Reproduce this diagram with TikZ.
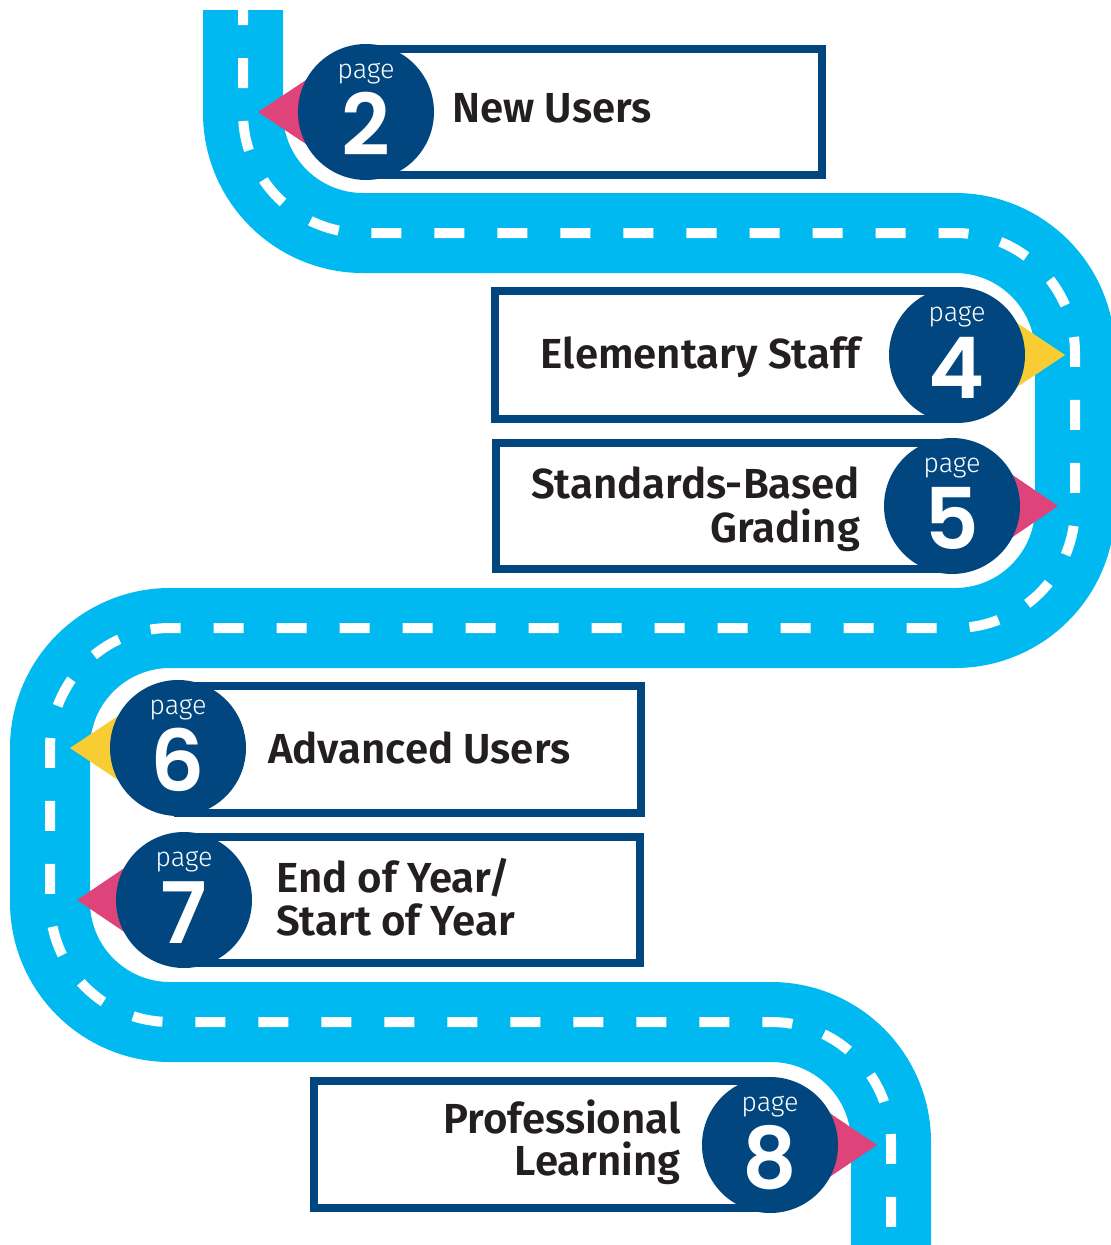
\documentclass[tikz,border=0pt]{standalone}
\usepackage{fontspec}
\setmainfont{Fira Sans}
\newfontfamily\labelfont{Fira Sans SemiBold}
\newfontfamily\pagefont{Fira Sans Light}
\newfontfamily\numfont{Poppins SemiBold}
\usetikzlibrary{calc}
\definecolor{road}{HTML}{00B9F0}
\definecolor{navy}{HTML}{02467F}
\definecolor{pinkp}{HTML}{DE4479}
\definecolor{yellowp}{HTML}{F7CD33}
\definecolor{ink}{HTML}{231F20}
\tikzset{
  roadst/.style={draw=road, line width=80pt, rounded corners=120pt},
  lanest/.style={draw=white, line width=10pt, rounded corners=120pt, dash pattern=on 30pt off 33pt, dash phase=15pt},
  boxst/.style={draw=navy, line width=8pt, fill=white, inner sep=0pt, rectangle},
  pagecirc/.style={circle, fill=navy, minimum size=136pt, inner sep=0pt},
  pgword/.style={text=white, font=\pagefont\fontsize{27}{27}\selectfont, anchor=base, inner sep=0pt},
  pgnum/.style={text=white, font=\numfont\fontsize{85}{85}\selectfont, anchor=base, inner sep=0pt},
  lbl/.style={text=ink, font=\labelfont\fontsize{42}{42}\selectfont, inner sep=0pt},
}
\begin{document}
\begin{tikzpicture}[x=1pt,y=-1pt]
\useasboundingbox (0,0) rectangle (1111,1245);
\clip (0,0) rectangle (1111,1245);
% road
\coordinate (r0) at (243,10);
\coordinate (r1) at (243,233);
\coordinate (r2) at (1075,233);
\coordinate (r3) at (1075,628);
\coordinate (r4) at (50,628);
\coordinate (r5) at (50,1022);
\coordinate (r6) at (891,1022);
\coordinate (r7) at (891,1260);
\draw[roadst] (r0) -- (r1) -- (r2) -- (r3) -- (r4) -- (r5) -- (r6) -- (r7);
\draw[lanest] (r0) -- (r1) -- (r2) -- (r3) -- (r4) -- (r5) -- (r6) -- (r7);
% boxes
\node[boxst, minimum width=456pt, minimum height=126pt] (b2) at (594,112) {};
\node[boxst, minimum width=462pt, minimum height=128pt] (b4) at (726,355) {};
\node[boxst, minimum width=455pt, minimum height=126pt] (b5) at (723.5,506) {};
\node[boxst, minimum width=463pt, minimum height=127pt] (b6) at (409.5,749.5) {};
\node[boxst, minimum width=456pt, minimum height=126pt] (b7) at (412,900) {};
\node[boxst, minimum width=456pt, minimum height=127pt] (b8) at (542,1144.5) {};
% circle centres
\coordinate (p2) at (366,112);
\coordinate (p4) at (957,355);
\coordinate (p5) at (952,506);
\coordinate (p6) at (178,748);
\coordinate (p7) at (184,900);
\coordinate (p8) at (770,1145);
% pointers
\fill[pinkp]   ($(p2)+(-108,0)$) -- ($(p2)+(-27,-54)$) -- ($(p2)+(-27,54)$) -- cycle;
\fill[yellowp] ($(p4)+(108,0)$) -- ($(p4)+(27,-54)$) -- ($(p4)+(27,54)$) -- cycle;
\fill[pinkp]   ($(p5)+(106,0)$) -- ($(p5)+(27,-54)$) -- ($(p5)+(27,54)$) -- cycle;
\fill[yellowp] ($(p6)+(-108,0)$) -- ($(p6)+(-27,-54)$) -- ($(p6)+(-27,54)$) -- cycle;
\fill[pinkp]   ($(p7)+(-107,0)$) -- ($(p7)+(-27,-54)$) -- ($(p7)+(-27,54)$) -- cycle;
\fill[pinkp]   ($(p8)+(107,0)$) -- ($(p8)+(27,-54)$) -- ($(p8)+(27,54)$) -- cycle;
% circles
\node[pagecirc] (c2) at (p2) {};
\node[pagecirc] (c4) at (p4) {};
\node[pagecirc] (c5) at (p5) {};
\node[pagecirc] (c6) at (p6) {};
\node[pagecirc] (c7) at (p7) {};
\node[pagecirc] (c8) at (p8) {};
% page words and numbers
\foreach \c/\n in {2/2,4/4,5/5,6/6,7/7,8/8}{
  \node[pgword] (w\c) at ($(p\c)+(0,-34)$) {page};
  \node[pgnum] (n\c) at ($(p\c)+(0,43)$) {\n};
}
% labels
\node[lbl, anchor=base west] (l2) at (452,122) {New Users};
\node[lbl, anchor=base east] (l4) at (860,368) {Elementary Staff};
\node[lbl, anchor=base east] (l5a) at (860,498) {Standards-Based};
\node[lbl, anchor=base east] (l5b) at (860,542) {Grading};
\node[lbl, anchor=base west] (l6) at (268,763) {Advanced Users};
\node[lbl, anchor=base west] (l7a) at (276,892) {End of Year/};
\node[lbl, anchor=base west] (l7b) at (276,935) {Start of Year};
\node[lbl, anchor=base east] (l8a) at (681,1133) {Professional};
\node[lbl, anchor=base east] (l8b) at (681,1175) {Learning};
\end{tikzpicture}
\end{document}
